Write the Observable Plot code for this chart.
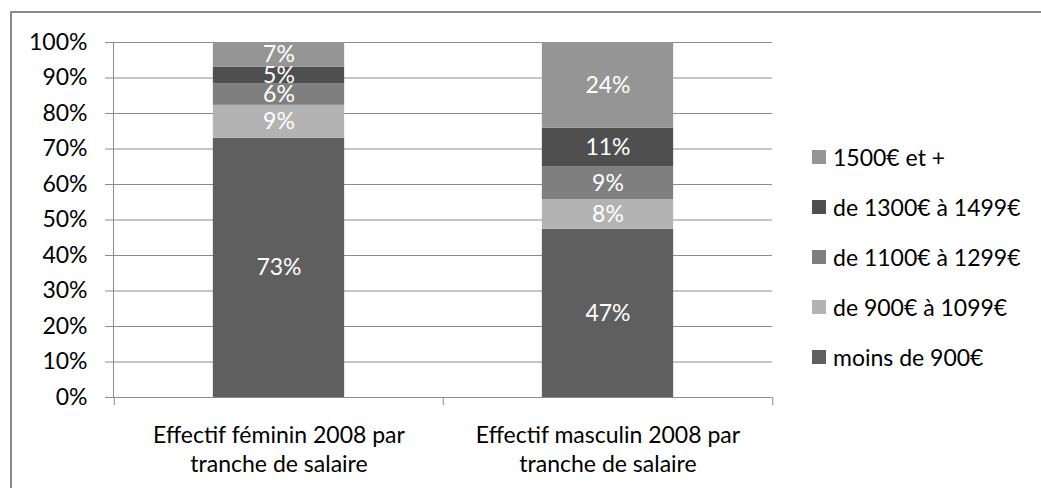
<!DOCTYPE html>
<html>
<head>
<meta charset="utf-8">
<script src="https://cdn.jsdelivr.net/npm/d3@7"></script>
<script src="https://cdn.jsdelivr.net/npm/@observablehq/plot@0.6"></script>
<style>
  html, body { margin: 0; padding: 0; background: #fff; overflow: hidden; width: 1041px; height: 488px; }
  #frame { position: absolute; left: 10px; top: 11px; width: 1100px; height: 600px; border: 2px solid #8a8a8a; box-sizing: border-box; }
  #chart { position: absolute; left: 0; top: 0; }
  #legend { position: absolute; left: 812px; top: 132px; font-family: Lato, "Open Sans", sans-serif; font-size: 23px; color: #000; }
  .item { display: flex; align-items: center; height: 50px; }
  .sw { width: 14px; height: 14px; margin-right: 7px; }
</style>
</head>
<body>
<div id="frame"></div>
<div id="chart"></div>
<div id="legend"></div>
<script>
const categories = ["Effectif féminin 2008 par\ntranche de salaire", "Effectif masculin 2008 par\ntranche de salaire"];
const brackets = ["moins de 900€", "de 900€ à 1099€", "de 1100€ à 1299€", "de 1300€ à 1499€", "1500€ et +"];
const feminin = [73.0, 9.3, 6.0, 4.8, 6.9];
const masculin = [47.4, 8.3, 9.2, 11.0, 24.1];
const colors = ["#5f5f5f", "#b3b3b3", "#7f7f7f", "#4f4f4f", "#959595"];
const yTicks = [0, 10, 20, 30, 40, 50, 60, 70, 80, 90, 100];
const legendOrder = ["1500€ et +", "de 1300€ à 1499€", "de 1100€ à 1299€", "de 900€ à 1099€", "moins de 900€"];

const series = [feminin, masculin];
const data = [];
categories.forEach((c, i) => brackets.forEach((b, j) => data.push({cat: c, bracket: b, value: series[i][j]})));

const W = 1041, H = 488;
const mL = 113, mR = 269, mT = 42, mB = 91;
const bw = (W - mL - mR) / categories.length;
const font = "Lato, 'Open Sans', sans-serif";
const fs = 23;

const chart = Plot.plot({
  width: W, height: H,
  marginLeft: mL, marginRight: mR, marginTop: mT, marginBottom: mB,
  style: {fontFamily: font, fontSize: fs + "px", color: "#000", background: "transparent", overflow: "visible"},
  x: {domain: categories, padding: 0, axis: null},
  y: {domain: [0, 100], axis: null},
  color: {domain: brackets, range: colors},
  marks: [
    Plot.gridY(yTicks, {stroke: "#8c8c8c", strokeOpacity: 1, strokeWidth: 1}),
    Plot.axisY(yTicks, {tickSize: 8, tickPadding: 18, stroke: "#8c8c8c", tickFormat: d => d + "%", fill: "#000", fontSize: fs, label: null}),
    Plot.barY(data, {x: "cat", y: "value", fill: "bracket", insetLeft: bw * 0.3, insetRight: bw * 0.3}),
    Plot.text(data, Plot.stackY({x: "cat", y: "value", z: "bracket", text: d => Math.round(d.value) + "%", fill: "white", fontSize: fs})),
    Plot.frame({anchor: "left", stroke: "#8c8c8c"}),
    Plot.ruleY([0], {stroke: "#8c8c8c"}),
    Plot.axisX(categories, {tickSize: 8, dx: -bw / 2, tickFormat: () => "", stroke: "#8c8c8c", label: null}),
    Plot.axisX([categories[categories.length - 1]], {tickSize: 8, dx: bw / 2, tickFormat: () => "", stroke: "#8c8c8c", label: null}),
    Plot.axisX(categories, {tickSize: 0, tickPadding: 25, lineHeight: 1.26, fill: "#000", fontSize: fs, label: null})
  ]
});
document.getElementById("chart").appendChild(chart);

const legend = document.getElementById("legend");
legendOrder.forEach(b => {
  const item = document.createElement("div");
  item.className = "item";
  const sw = document.createElement("div");
  sw.className = "sw";
  sw.style.background = colors[brackets.indexOf(b)];
  const t = document.createElement("span");
  t.textContent = b;
  item.appendChild(sw);
  item.appendChild(t);
  legend.appendChild(item);
});
</script>
</body>
</html>
